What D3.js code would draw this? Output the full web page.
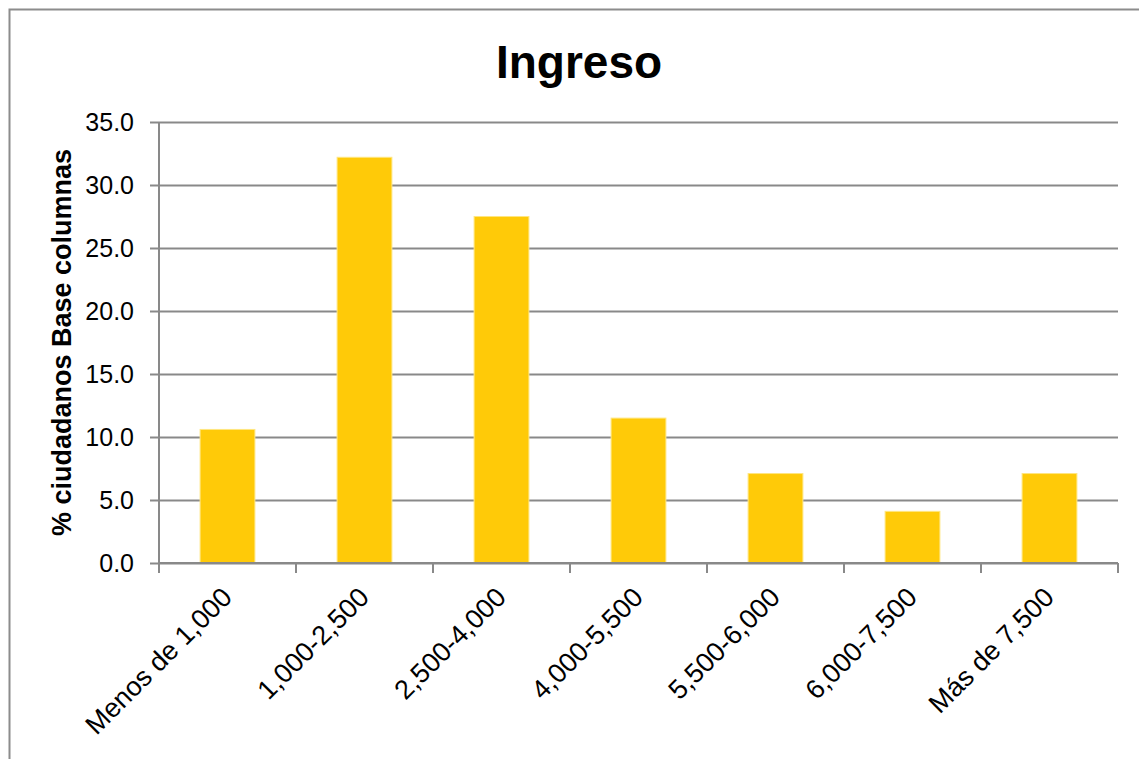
<html>
<head>
  <meta charset="utf-8">
  <title>Ingreso</title>
  <style>
    body { margin: 0; background: #fff; }
    text { font-family: "Liberation Sans", Arial, sans-serif; }
  </style>
  <script src="https://d3js.org/d3.v7.min.js"></script>
</head>
<body>
  <div id="chart"></div>
  <script>
    // data
    var categories = ["Menos de 1,000", "1,000-2,500", "2,500-4,000", "4,000-5,500", "5,500-6,000", "6,000-7,500", "Más de 7,500"];
    var values = [10.6, 32.2, 27.5, 11.5, 7.1, 4.1, 7.1];
    var yTicks = [0, 5, 10, 15, 20, 25, 30, 35];

    var margin = { top: 122, right: 21, bottom: 196, left: 159 },
        width = 1139 - margin.left - margin.right,
        height = 759 - margin.top - margin.bottom;

    var svg = d3.select("#chart").append("svg")
        .attr("width", 1139)
        .attr("height", 759);

    // outer frame
    svg.append("rect")
        .attr("x", 9.5).attr("y", 9.5)
        .attr("width", 1200).attr("height", 800)
        .attr("fill", "none")
        .attr("stroke", "#8c8c8c")
        .attr("stroke-width", 2);

    svg.append("text")
        .attr("x", 579).attr("y", 78)
        .attr("text-anchor", "middle")
        .style("font-size", "46px")
        .style("font-weight", "bold")
        .text("Ingreso");

    var g = svg.append("g")
        .attr("transform", "translate(" + margin.left + "," + margin.top + ")");

    var x = d3.scaleBand().domain(categories).range([0, width]);
    var y = d3.scaleLinear().domain([0, 35]).range([height, 0]);

    // gridlines + left ticks
    var yAxis = g.append("g")
        .call(d3.axisLeft(y).tickValues(yTicks).tickSize(-width).tickPadding(0)
            .tickFormat(d3.format(".1f")));
    yAxis.select(".domain").remove();
    yAxis.selectAll(".tick line")
        .attr("x1", -9)
        .attr("stroke", "#898989")
        .attr("stroke-width", 2);
    yAxis.selectAll(".tick text")
        .attr("x", -25)
        .attr("dy", "0.35em")
        .attr("fill", "#000")
        .style("font-size", "25px")
        .style("font-family", "'Liberation Sans', Arial, sans-serif");

    // y axis line
    g.append("line")
        .attr("x1", 0).attr("x2", 0)
        .attr("y1", 0).attr("y2", height + 10)
        .attr("stroke", "#898989").attr("stroke-width", 2);

    // bars
    g.selectAll(".bar")
        .data(values)
        .enter().append("rect")
        .attr("class", "bar")
        .attr("x", function(d, i) { return x(categories[i]) + x.bandwidth() * 0.3; })
        .attr("width", x.bandwidth() * 0.4)
        .attr("y", function(d) { return y(d); })
        .attr("height", function(d) { return height - y(d); })
        .attr("fill", "#FFCA08")
        .attr("stroke", "#FFE680")
        .attr("stroke-width", 1);

    // x axis line and boundary ticks
    g.append("line")
        .attr("x1", 0).attr("x2", width)
        .attr("y1", height).attr("y2", height)
        .attr("stroke", "#898989").attr("stroke-width", 2);

    var bounds = categories.map(function(c) { return x(c); }).concat([width]);
    g.selectAll(".xtick")
        .data(bounds)
        .enter().append("line")
        .attr("class", "xtick")
        .attr("x1", function(d) { return d; })
        .attr("x2", function(d) { return d; })
        .attr("y1", height)
        .attr("y2", height + 10)
        .attr("stroke", "#898989").attr("stroke-width", 2);

    // x labels, rotated
    g.selectAll(".xlabel")
        .data(categories)
        .enter().append("text")
        .attr("class", "xlabel")
        .attr("transform", function(d) {
            return "translate(" + (x(d) + x.bandwidth() / 2 + 6) + "," + (height + 36) + ") rotate(-45)";
        })
        .attr("text-anchor", "end")
        .style("font-size", "27px")
        .text(function(d) { return d; });

    // y title
    svg.append("text")
        .attr("transform", "translate(71," + (margin.top + height / 2) + ") rotate(-90)")
        .attr("text-anchor", "middle")
        .style("font-size", "27px")
        .style("font-weight", "bold")
        .text("% ciudadanos Base columnas");
  </script>
</body>
</html>
